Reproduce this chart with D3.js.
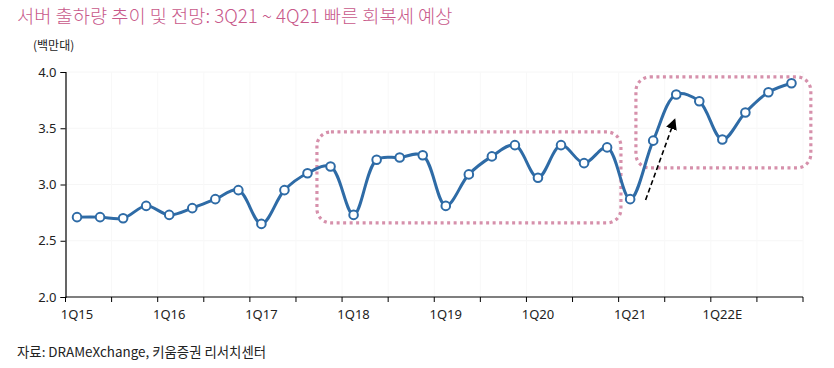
<!DOCTYPE html>
<html><head><meta charset="utf-8">
<script src="https://cdn.jsdelivr.net/npm/d3@7"></script>
<style>
body{margin:0;background:#fff;}
svg{display:block;font-family:"Noto Sans CJK KR","Noto Sans",sans-serif;}
</style></head>
<body><svg id="c" width="834" height="368"></svg>
<script>
const categories = ["1Q15","2Q15","3Q15","4Q15","1Q16","2Q16","3Q16","4Q16","1Q17","2Q17","3Q17","4Q17","1Q18","2Q18","3Q18","4Q18","1Q19","2Q19","3Q19","4Q19","1Q20","2Q20","3Q20","4Q20","1Q21","2Q21","3Q21","4Q21","1Q22E","2Q22E","3Q22E","4Q22E"];
const shipments = [2.71,2.71,2.70,2.81,2.73,2.79,2.87,2.95,2.65,2.95,3.10,3.16,2.73,3.22,3.24,3.26,2.81,3.09,3.25,3.35,3.06,3.35,3.19,3.33,2.87,3.39,3.80,3.74,3.40,3.64,3.82,3.90];
const xTickLabels = ["1Q15","1Q16","1Q17","1Q18","1Q19","1Q20","1Q21","1Q22E"];
const yTicks = [2.0,2.5,3.0,3.5,4.0];
// annotation boxes: [startIndex, endIndex, low, high] in category / value units
const boxes = [[10.41,23.6,2.658,3.467],[24.25,31.84,3.147,3.956]];
// arrow: from [index, value] to [index, value]
const arrow = [[24.67,2.862],[25.94,3.58]];

const svg = d3.select("#c");
const x0 = 65.5, x1 = 803;
const x = d3.scaleBand().domain(categories).range([x0,x1]).padding(0);
const xi = d3.scaleLinear().domain([0,categories.length]).range([x0,x1]);
const y = d3.scaleLinear().domain([2,4]).range([297,72]);

svg.append("text").attr("x",17).attr("y",23).attr("font-size",18.7).attr("font-weight",300).attr("fill","#C8588A").text("서버 출하량 추이 및 전망: 3Q21 ~ 4Q21 빠른 회복세 예상");
svg.append("text").attr("x",33).attr("y",50).attr("font-size",12).attr("fill","#222").text("(백만대)");
svg.append("text").attr("x",17).attr("y",357).attr("font-size",13.4).attr("fill","#222").text("자료: DRAMeXchange, 키움증권 리서치센터");

// grid
const g = svg.append("g");
g.selectAll("line.h").data(yTicks.slice(1)).join("line")
 .attr("x1",x0).attr("x2",x1).attr("y1",d=>y(d)).attr("y2",d=>y(d)).attr("stroke","#f6f6f6");
g.selectAll("line.v").data(d3.range(2,categories.length+1,2)).join("line")
 .attr("x1",d=>xi(d)).attr("x2",d=>xi(d)).attr("y1",y(4)).attr("y2",y(2)).attr("stroke","#f8f8f8");

// axes
const yAxis = svg.append("g").attr("transform",`translate(${x0},0)`)
 .call(d3.axisLeft(y).tickValues(yTicks).tickFormat(d3.format(".1f")).tickSize(5).tickPadding(4));
yAxis.select(".domain").attr("stroke","#000").attr("stroke-width",1.2);
yAxis.selectAll("text").attr("font-size",13).attr("fill","#222").attr("font-family","Noto Sans, sans-serif");

const xAxisG = svg.append("g").attr("transform",`translate(0,${y(2)})`);
xAxisG.append("line").attr("x1",x0).attr("x2",x1).attr("stroke","#000").attr("stroke-width",1.2);
xAxisG.selectAll("line.t").data(d3.range(0,categories.length+1,2)).join("line")
 .attr("x1",d=>xi(d)).attr("x2",d=>xi(d)).attr("y1",0).attr("y2",5).attr("stroke","#000");
xAxisG.selectAll("text").data(xTickLabels).join("text")
 .attr("x",d=>x(d)+x.bandwidth()/2).attr("y",22).attr("text-anchor","middle")
 .attr("font-size",13).attr("fill","#222").attr("font-family","Noto Sans, sans-serif").text(d=>d);

// boxes
svg.selectAll("rect.box").data(boxes).join("rect")
 .attr("x",d=>xi(d[0]+0.5)).attr("width",d=>xi(d[1]+0.5)-xi(d[0]+0.5))
 .attr("y",d=>y(d[3])).attr("height",d=>y(d[2])-y(d[3]))
 .attr("rx",14).attr("fill","none").attr("stroke","#D690AB").attr("stroke-width",3.2)
 .attr("stroke-dasharray","3 3.5");

// line
const pts = shipments.map((v,i)=>[x(categories[i])+x.bandwidth()/2, y(v)]);
svg.append("path").attr("d",d3.line().curve(d3.curveCatmullRom.alpha(0.5))(pts))
 .attr("fill","none").attr("stroke","#2E6BA6").attr("stroke-width",3);
svg.selectAll("circle").data(pts).join("circle")
 .attr("cx",d=>d[0]).attr("cy",d=>d[1]).attr("r",4.3)
 .attr("fill","#fff").attr("stroke","#2E6BA6").attr("stroke-width",2);

// arrow
svg.append("defs").append("marker").attr("id","ah").attr("viewBox","0 0 10 10").attr("refX",9).attr("refY",5)
 .attr("markerWidth",7).attr("markerHeight",7).attr("orient","auto")
 .append("path").attr("d","M0,0 L10,5 L0,10 z").attr("fill","#000");
svg.append("line")
 .attr("x1",xi(arrow[0][0]+0.5)).attr("y1",y(arrow[0][1]))
 .attr("x2",xi(arrow[1][0]+0.5)).attr("y2",y(arrow[1][1]))
 .attr("stroke","#000").attr("stroke-width",1.6).attr("stroke-dasharray","5 3").attr("marker-end","url(#ah)");
</script></body></html>
